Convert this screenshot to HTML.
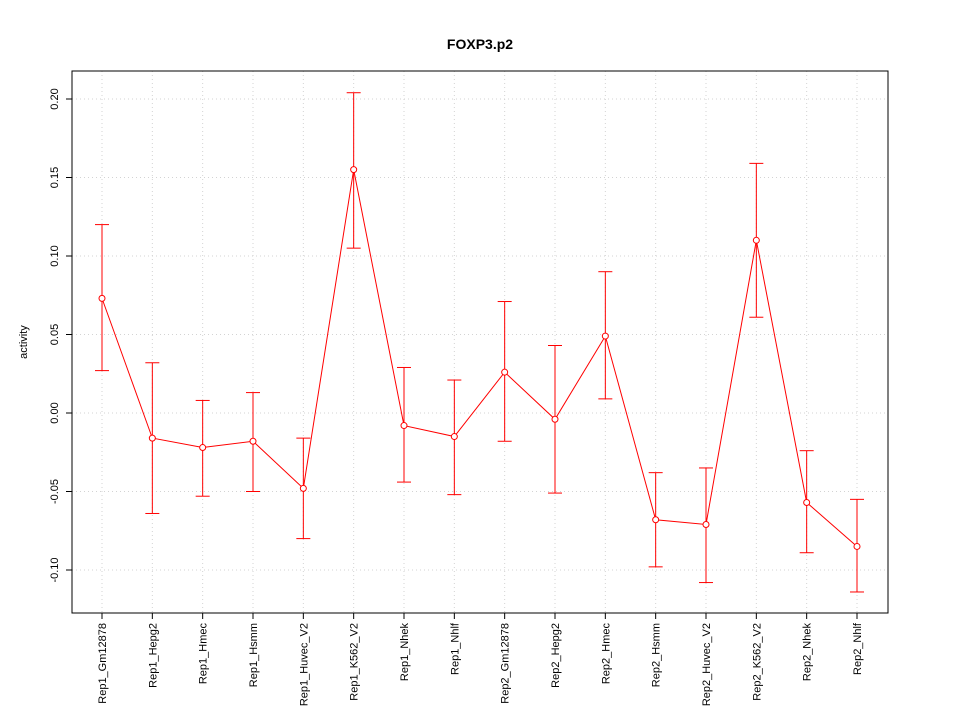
<!DOCTYPE html>
<html><head><meta charset="utf-8"><style>
body{margin:0;background:#fff;}
svg text{font-family:"Liberation Sans",sans-serif;}
</style></head><body>
<svg id="chart" width="960" height="720" xmlns="http://www.w3.org/2000/svg"></svg>
<script>
const categories=["Rep1_Gm12878","Rep1_Hepg2","Rep1_Hmec","Rep1_Hsmm","Rep1_Huvec_V2","Rep1_K562_V2","Rep1_Nhek","Rep1_Nhlf","Rep2_Gm12878","Rep2_Hepg2","Rep2_Hmec","Rep2_Hsmm","Rep2_Huvec_V2","Rep2_K562_V2","Rep2_Nhek","Rep2_Nhlf"];
const values=[0.073,-0.016,-0.022,-0.018,-0.048,0.155,-0.008,-0.015,0.026,-0.004,0.049,-0.068,-0.071,0.110,-0.057,-0.085];
const upper=[0.120,0.032,0.008,0.013,-0.016,0.204,0.029,0.021,0.071,0.043,0.090,-0.038,-0.035,0.159,-0.024,-0.055];
const lower=[0.027,-0.064,-0.053,-0.050,-0.080,0.105,-0.044,-0.052,-0.018,-0.051,0.009,-0.098,-0.108,0.061,-0.089,-0.114];
const yTicks=[-0.10,-0.05,0.00,0.05,0.10,0.15,0.20];
const yTickLabels=["-0.10","-0.05","0.00","0.05","0.10","0.15","0.20"];

const svg=document.getElementById('chart');
const NS='http://www.w3.org/2000/svg';
const L=72,R=888,T=71,B=613;
const x=i=>102+i*(857-102)/(categories.length-1);
const y=v=>413-v*1570;
function mk(tag,attrs,parent){const e=document.createElementNS(NS,tag);for(const k in attrs)e.setAttribute(k,attrs[k]);(parent||svg).appendChild(e);return e;}

// grid
const grid=mk('g',{});


categories.forEach((c,i)=>{mk('line',{x1:x(i),x2:x(i),y1:T,y2:B,stroke:'#d3d3d3','stroke-dasharray':'1,3'},grid);});
yTicks.forEach(v=>{mk('line',{x1:L,x2:R,y1:y(v),y2:y(v),stroke:'#d3d3d3','stroke-dasharray':'1,3'},grid);});

// box
const box=mk('rect',{x:L,y:T,width:R-L,height:B-T,fill:'none',stroke:'#000'});



// y axis
const ya=mk('g',{});


yTicks.forEach((v,i)=>{
  mk('line',{x1:L-6,x2:L,y1:y(v),y2:y(v),stroke:'#000'},ya);
  const t=mk('text',{x:L-14,y:y(v),'font-size':11,'text-anchor':'middle',transform:`rotate(-90 ${L-14} ${y(v)})`},ya);
  t.textContent=yTickLabels[i];
});
const yt=mk('text',{x:27,y:342,'font-size':11,'text-anchor':'middle',transform:'rotate(-90 27 342)'});
yt.textContent='activity';



// x axis
const xa=mk('g',{});


mk('line',{x1:x(0),x2:x(categories.length-1),y1:B,y2:B,stroke:'#000'},xa);
categories.forEach((c,i)=>{
  mk('line',{x1:x(i),x2:x(i),y1:B,y2:B+6,stroke:'#000'},xa);
  const t=mk('text',{x:x(i)+4,y:623,'font-size':11,'text-anchor':'end',transform:`rotate(-90 ${x(i)+4} 623)`},xa);
  t.textContent=c;
});

// title
const title=mk('text',{x:480,y:49,'font-size':14,'font-weight':'bold','text-anchor':'middle'});
title.textContent='FOXP3.p2';



// series
const ser=mk('g',{});


mk('polyline',{points:values.map((v,i)=>x(i)+','+y(v)).join(' '),fill:'none',stroke:'#ff0000'},ser);
values.forEach((v,i)=>{
  const g=mk('g',{},ser);
  
  
  mk('line',{x1:x(i),x2:x(i),y1:y(upper[i]),y2:y(lower[i]),stroke:'#ff0000'},g);
  mk('line',{x1:x(i)-7,x2:x(i)+7,y1:y(upper[i]),y2:y(upper[i]),stroke:'#ff0000'},g);
  mk('line',{x1:x(i)-7,x2:x(i)+7,y1:y(lower[i]),y2:y(lower[i]),stroke:'#ff0000'},g);
  const p=mk('circle',{cx:x(i),cy:y(v),r:3,fill:'#fff',stroke:'#ff0000'},ser);
  
  
});
</script>
</body></html>
